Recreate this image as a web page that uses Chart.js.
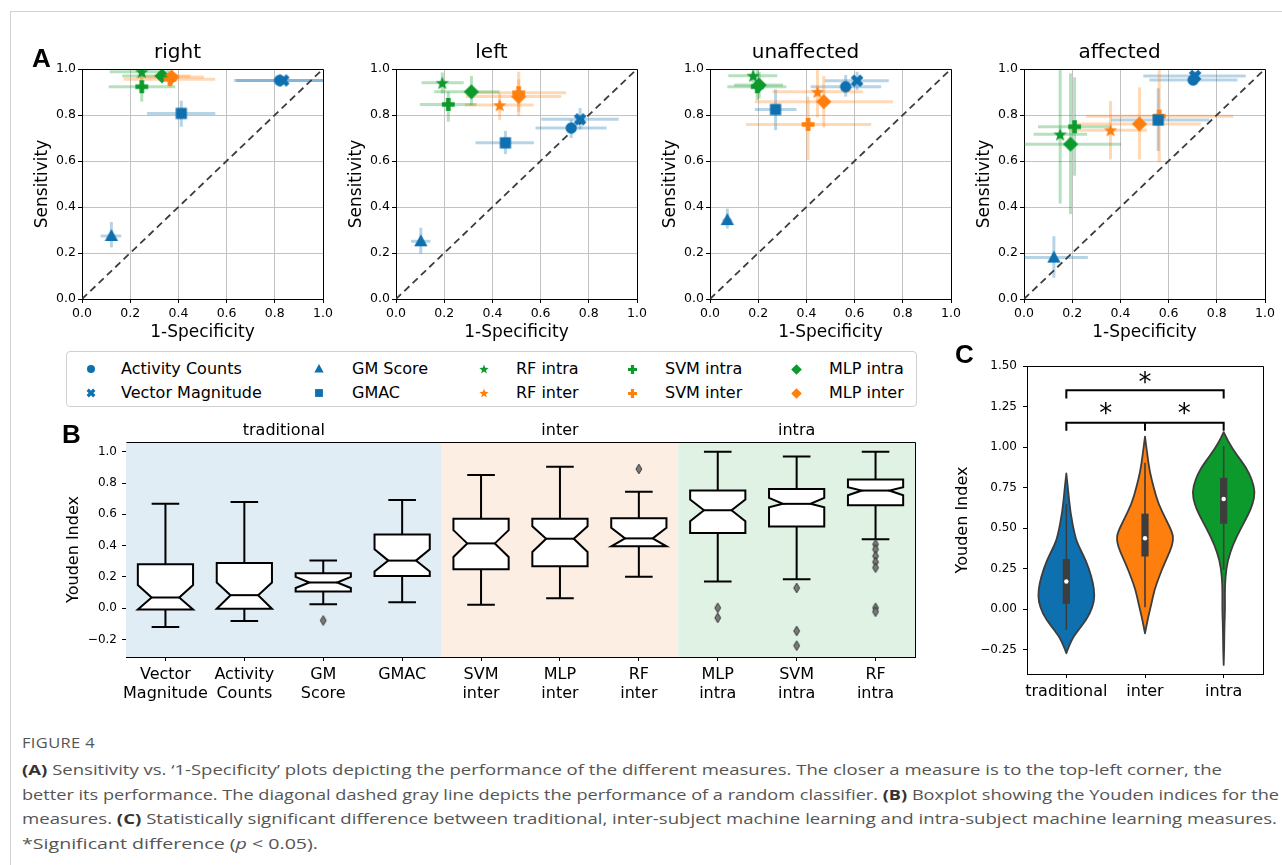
<!DOCTYPE html>
<html><head><meta charset="utf-8">
<script src="https://cdn.jsdelivr.net/npm/chart.js@4.4.1/dist/chart.umd.min.js"></script>
<style>
html,body{margin:0;padding:0;background:#fff}
body{width:1282px;height:865px;position:relative;overflow:hidden;font-family:'DejaVu Sans',sans-serif}
.frame{position:absolute;left:10px;top:11px;width:1290px;height:900px;border-top:1px solid #d2d2d2;border-left:1px solid #d2d2d2}
canvas.ch{position:absolute}
.plab{position:absolute;font-family:'Liberation Sans',Arial,sans-serif;font-weight:bold;font-size:26px;line-height:26px;color:#000}
#legend{position:absolute;left:66px;top:351px;width:849px;height:54px;border:1px solid #d0d0d0;border-radius:4px;background:#fff}
.li{position:absolute;font-size:16px;line-height:20px;color:#000;white-space:nowrap}
.lm{position:absolute}
.cap{position:absolute;left:22px;white-space:nowrap;font-family:'Open Sans',sans-serif;color:#555;transform-origin:0 50%;display:inline-block;line-height:20px}
.cap b{color:#333}
</style></head>
<body>
<div class="frame"></div>
<canvas id="roc0" class="ch"></canvas>
<canvas id="roc1" class="ch"></canvas>
<canvas id="roc2" class="ch"></canvas>
<canvas id="roc3" class="ch"></canvas>
<canvas id="boxc" class="ch"></canvas>
<canvas id="vioc" class="ch"></canvas>
<div id="legend"></div>
<div class="plab" style="left:32px;top:45px">A</div>
<div class="plab" style="left:62px;top:421px">B</div>
<div class="plab" style="left:955px;top:341px">C</div>
<div class="cap" data-w="73" style="top:733px;font-size:14px;letter-spacing:0.3px;color:#555">FIGURE 4</div>
<div class="cap" data-w="1200" style="top:759px;font-size:15px"><b>(A)</b> Sensitivity vs. ‘1-Specificity’ plots depicting the performance of the different measures. The closer a measure is to the top-left corner, the</div>
<div class="cap" data-w="1257" style="top:784px;font-size:15px">better its performance. The diagonal dashed gray line depicts the performance of a random classifier. <b>(B)</b> Boxplot showing the Youden indices for the</div>
<div class="cap" data-w="1255" style="top:808px;font-size:15px">measures. <b>(C)</b> Statistically significant difference between traditional, inter-subject machine learning and intra-subject machine learning measures.</div>
<div class="cap" data-w="296" style="top:833px;font-size:15px">*Significant difference (<i>p</i> &lt; 0.05).</div>
<script>
// ---------------- DATA ----------------
const measures = ['Activity Counts','Vector Magnitude','GM Score','GMAC','RF intra','RF inter','SVM intra','SVM inter','MLP intra','MLP inter'];
const rocTitles = ['right','left','unaffected','affected'];
const rocTicks = [0,0.2,0.4,0.6,0.8,1.0];

const rightFpr   = [0.82, 0.835, 0.122, 0.412, 0.248, 0.37, 0.248, 0.365, 0.332, 0.372];
const rightTpr   = [0.95, 0.95, 0.274, 0.807, 0.988, 0.97, 0.923, 0.955, 0.97, 0.965];
const rightFprLo = [0.63, 0.64, 0.077, 0.27, 0.115, 0.30, 0.111, 0.173, 0.167, 0.225];
const rightFprHi = [1.05, 1.03, 0.163, 0.553, 0.364, 0.45, 0.387, 0.553, 0.378, 0.505];
const rightTprLo = [0.94, 0.94, 0.224, 0.749, 0.975, 0.955, 0.858, 0.92, 0.95, 0.945];
const rightTprHi = [0.96, 0.96, 0.335, 0.862, 1.0, 0.985, 0.981, 0.99, 0.99, 0.985];

const leftFpr   = [0.727, 0.764, 0.103, 0.454, 0.192, 0.43, 0.217, 0.509, 0.313, 0.509];
const leftTpr   = [0.743, 0.781, 0.251, 0.679, 0.94, 0.843, 0.846, 0.897, 0.901, 0.88];
const leftFprLo = [0.579, 0.603, 0.062, 0.33, 0.106, 0.286, 0.099, 0.327, 0.159, 0.29];
const leftFprHi = [0.874, 0.924, 0.143, 0.572, 0.281, 0.571, 0.334, 0.706, 0.43, 0.686];
const leftTprLo = [0.70, 0.737, 0.197, 0.63, 0.894, 0.778, 0.771, 0.814, 0.843, 0.795];
const leftTprHi = [0.78, 0.83, 0.31, 0.731, 0.985, 0.894, 0.901, 0.988, 0.97, 0.955];

const unaffFpr   = [0.563, 0.61, 0.072, 0.272, 0.179, 0.446, 0.196, 0.407, 0.204, 0.472];
const unaffTpr   = [0.923, 0.949, 0.343, 0.824, 0.971, 0.901, 0.923, 0.759, 0.93, 0.858];
const unaffFprLo = [0.418, 0.476, 0.052, 0.186, 0.076, 0.259, 0.072, 0.149, 0.1, 0.186];
const unaffFprHi = [0.71, 0.742, 0.09, 0.359, 0.279, 0.634, 0.317, 0.669, 0.303, 0.759];
const unaffTprLo = [0.88, 0.909, 0.306, 0.734, 0.94, 0.79, 0.865, 0.604, 0.872, 0.746];
const unaffTprHi = [0.974, 0.988, 0.393, 0.911, 1.0, 1.0, 0.996, 0.88, 0.988, 0.97];

const affFpr   = [0.702, 0.71, 0.124, 0.557, 0.15, 0.359, 0.21, 0.561, 0.193, 0.479];
const affTpr   = [0.952, 0.97, 0.18, 0.778, 0.716, 0.734, 0.749, 0.795, 0.673, 0.761];
const affFprLo = [0.52, 0.495, 0.0, 0.361, 0.04, 0.189, 0.058, 0.258, 0.0, 0.223];
const affFprHi = [0.886, 0.92, 0.265, 0.768, 0.262, 0.51, 0.354, 0.868, 0.403, 0.734];
const affTprLo = [0.93, 0.95, 0.093, 0.644, 0.415, 0.607, 0.536, 0.594, 0.369, 0.607];
const affTprHi = [0.975, 0.99, 0.273, 0.916, 1.0, 0.861, 0.964, 1.0, 0.981, 0.92];

// Boxplot (panel B)
const boxLabels = [['Vector','Magnitude'],['Activity','Counts'],['GM','Score'],['GMAC'],['SVM','inter'],['MLP','inter'],['RF','inter'],['MLP','intra'],['SVM','intra'],['RF','intra']];
const boxWhiskLo = [-0.121, -0.083, 0.025, 0.038, 0.021, 0.064, 0.20, 0.17, 0.185, 0.44];
const boxQ1      = [-0.008, -0.004, 0.106, 0.206, 0.248, 0.268, 0.395, 0.48, 0.522, 0.658];
const boxNotchLo = [-0.008, -0.004, 0.129, 0.234, 0.327, 0.359, 0.395, 0.556, 0.645, 0.722];
const boxMedian  = [0.068, 0.083, 0.164, 0.304, 0.414, 0.444, 0.446, 0.626, 0.667, 0.752];
const boxNotchHi = [0.148, 0.164, 0.20, 0.376, 0.499, 0.524, 0.514, 0.694, 0.705, 0.773];
const boxQ3      = [0.28, 0.289, 0.223, 0.471, 0.571, 0.571, 0.575, 0.752, 0.762, 0.822];
const boxWhiskHi = [0.667, 0.679, 0.304, 0.692, 0.851, 0.904, 0.745, 1.0, 0.97, 1.0];
const outlierIdx = [2, 6, 7, 7, 8, 8, 8, 9, 9, 9, 9, 9, 9, 9];
const outlierVal = [-0.079, 0.89, 0.002, -0.062, 0.129, -0.146, -0.24, 0.408, 0.376, 0.333, 0.295, 0.259, 0.002, -0.023];
const groupNames = ['traditional','inter','intra'];
const groupFirst = [0, 4, 7];
const groupLast  = [3, 6, 9];
const boxTicks = [-0.2, 0, 0.2, 0.4, 0.6, 0.8, 1.0];

// Violin (panel C)
const violinGroups = ['traditional','inter','intra'];
const tradDensV = [0.837, 0.75, 0.6, 0.45, 0.39, 0.3, 0.2, 0.12, 0.05, -0.03, -0.1, -0.17, -0.22, -0.272];
const tradDensW = [0, 0.02, 0.05, 0.11, 0.155, 0.25, 0.32, 0.355, 0.355, 0.3, 0.2, 0.09, 0.04, 0];
const interDensV = [1.064, 0.95, 0.85, 0.75, 0.65, 0.55, 0.47, 0.42, 0.36, 0.28, 0.2, 0.12, 0.03, -0.05, -0.149];
const interDensW = [0, 0.03, 0.06, 0.11, 0.17, 0.27, 0.35, 0.36, 0.32, 0.245, 0.18, 0.12, 0.08, 0.04, 0];
const intraDensV = [1.092, 1.03, 0.95, 0.87, 0.8, 0.72, 0.65, 0.59, 0.5, 0.4, 0.3, 0.2, 0.1, 0.0, -0.1, -0.25, -0.344];
const intraDensW = [0, 0.06, 0.17, 0.29, 0.36, 0.40, 0.37, 0.32, 0.22, 0.12, 0.05, 0.022, 0.015, 0.018, 0.01, 0.006, 0];
const violinQ1  = [0.033, 0.325, 0.527];
const violinQ3  = [0.309, 0.589, 0.81];
const violinMed = [0.171, 0.437, 0.68];
const violinWLo = [-0.128, 0.012, 0.243];
const violinWHi = [0.65, 0.903, 1.006];
const violinTicks = [-0.25, 0, 0.25, 0.5, 0.75, 1.0, 1.25, 1.5];
const sigLow = 1.15, sigLowTip = 1.10, sigHigh = 1.35, sigHighTip = 1.30;
const sigStarX = [0.5, 1.5, 1.0];
const sigStarY = [1.245, 1.245, 1.44];

// ---------------- STYLE ----------------
const BLUE = '#0f70b0', ORANGE = '#ff7f0e', GREEN = '#0c9a2c';
const BLUE_A = 'rgba(15,112,176,0.3)', ORANGE_A = 'rgba(255,127,14,0.3)', GREEN_A = 'rgba(12,154,44,0.3)';
const mShapes = ['circle','x','triangle','square','star','star','plus','plus','diamond','diamond'];
const mSizes  = [5.7, 6.6, 7.0, 6.6, 7.0, 7.0, 6.4, 6.4, 7.6, 7.6];
const mColors = [BLUE,BLUE,BLUE,BLUE,GREEN,ORANGE,GREEN,ORANGE,GREEN,ORANGE];
const eColors = [BLUE_A,BLUE_A,BLUE_A,BLUE_A,GREEN_A,ORANGE_A,GREEN_A,ORANGE_A,GREEN_A,ORANGE_A];

Chart.defaults.font.family = "'DejaVu Sans', sans-serif";
Chart.defaults.color = '#000';
Chart.defaults.animation = false;

function marker(shape, color, s, edge) {
  const n = Math.ceil(s * 2 + 4), c = document.createElement('canvas');
  c.width = c.height = n;
  const g = c.getContext('2d');
  g.translate(n / 2, n / 2);
  g.fillStyle = color;
  g.beginPath();
  if (shape === 'circle') g.arc(0, 0, s, 0, Math.PI * 2);
  else if (shape === 'square') g.rect(-s * 0.85, -s * 0.85, s * 1.7, s * 1.7);
  else if (shape === 'triangle') { g.moveTo(0, -s); g.lineTo(s * 0.95, s * 0.72); g.lineTo(-s * 0.95, s * 0.72); }
  else if (shape === 'diamond') { g.moveTo(0, -s); g.lineTo(s, 0); g.lineTo(0, s); g.lineTo(-s, 0); }
  else if (shape === 'thin') { g.moveTo(0, -s); g.lineTo(s * 0.6, 0); g.lineTo(0, s); g.lineTo(-s * 0.6, 0); }
  else if (shape === 'star') {
    for (let k = 0; k < 10; k++) {
      const r = k % 2 ? s * 0.42 : s, a = -Math.PI / 2 + k * Math.PI / 5;
      const px = r * Math.cos(a), py = r * Math.sin(a) + s * 0.1;
      k ? g.lineTo(px, py) : g.moveTo(px, py);
    }
  } else {
    const a = s, b = s * 0.36, r = shape === 'x' ? Math.PI / 4 : 0;
    const pts = [[b,-a],[b,-b],[a,-b],[a,b],[b,b],[b,a],[-b,a],[-b,b],[-a,b],[-a,-b],[-b,-b],[-b,-a]];
    pts.forEach((p, k) => {
      const x = p[0] * Math.cos(r) - p[1] * Math.sin(r), y = p[0] * Math.sin(r) + p[1] * Math.cos(r);
      k ? g.lineTo(x, y) : g.moveTo(x, y);
    });
  }
  g.closePath();
  g.fill();
  if (edge) { g.strokeStyle = edge; g.lineWidth = 1; g.stroke(); }
  return c;
}

function place(cv, x, y, w, h) {
  cv.width = w; cv.height = h;
  cv.style.left = x + 'px'; cv.style.top = y + 'px';
  cv.style.width = w + 'px'; cv.style.height = h + 'px';
}
function align(p) { return Math.round(p - 0.5) + 0.5; }
const framePlugin = {
  id: 'frame',
  afterDatasetsDraw(chart) {
    const { ctx, chartArea: a } = chart;
    ctx.save();
    ctx.strokeStyle = '#000'; ctx.lineWidth = 1;
    ctx.beginPath();
    ctx.moveTo(align(a.left), align(a.top)); ctx.lineTo(align(a.right), align(a.top)); ctx.lineTo(align(a.right), align(a.bottom));
    ctx.stroke();
    ctx.restore();
  }
};
const minus = s => s.replace('-', '\u2212');

// ---------------- PANEL A ----------------
const errPlugin = {
  id: 'err',
  beforeDatasetsDraw(chart) {
    const { ctx, chartArea: a, scales: { x, y } } = chart;
    ctx.save();
    ctx.beginPath(); ctx.rect(a.left, a.top, a.right - a.left, a.bottom - a.top); ctx.clip();
    ctx.lineWidth = 3;
    chart.data.datasets.forEach(d => {
      if (!d.ex) return;
      const p = d.data[0];
      ctx.strokeStyle = d.ecol;
      ctx.beginPath();
      ctx.moveTo(x.getPixelForValue(d.ex[0]), y.getPixelForValue(p.y));
      ctx.lineTo(x.getPixelForValue(d.ex[1]), y.getPixelForValue(p.y));
      ctx.stroke();
      ctx.beginPath();
      ctx.moveTo(x.getPixelForValue(p.x), y.getPixelForValue(d.ey[0]));
      ctx.lineTo(x.getPixelForValue(p.x), y.getPixelForValue(d.ey[1]));
      ctx.stroke();
    });
    ctx.restore();
  }
};

function rocChart(id, title, fpr, tpr, fl, fh, tl, th, px, py) {
  const W = 241, H = 230, L = 60, R = 60, T = 50, B = 50;
  const cv = document.getElementById(id);
  place(cv, px - L, py - T, W + L + R, H + T + B);
  const datasets = measures.map((m, i) => ({
    label: m, data: [{ x: fpr[i], y: tpr[i] }],
    pointStyle: marker(mShapes[i], mColors[i], mSizes[i]), pointRadius: 5, pointHoverRadius: 5,
    ex: [fl[i], fh[i]], ey: [tl[i], th[i]], ecol: eColors[i], order: 1
  }));
  datasets.push({ type: 'line', label: 'random', data: [{ x: 0, y: 0 }, { x: 1, y: 1 }], borderColor: '#3c3c3c',
    borderWidth: 1.8, borderDash: [7, 4.5], pointRadius: 0, fill: false, order: 20 });
  const axisCommon = {
    type: 'linear', min: 0, max: 1,
    afterBuildTicks: s => { s.ticks = rocTicks.map(v => ({ value: v })); },
    grid: { color: '#c2c2c2', lineWidth: 1, tickColor: '#000', tickLength: 4, drawTicks: true },
    border: { color: '#000', width: 1 }
  };
  new Chart(cv, {
    type: 'scatter',
    data: { datasets },
    options: {
      responsive: false, animation: false, events: [],
      layout: { padding: { left: 10, right: 60, top: 22, bottom: 6 } },
      plugins: {
        legend: { display: false }, tooltip: { enabled: false },
        title: { display: true, text: title, color: '#000', font: { size: 20, weight: 'normal', lineHeight: 1.2 }, padding: { top: 0, bottom: 4 } }
      },
      scales: {
        x: Object.assign({}, axisCommon, {
          afterFit: s => { s.height = 44; },
          ticks: { callback: v => v.toFixed(1), font: { size: 12.5 }, color: '#000', padding: 3.5, maxRotation: 0, autoSkip: false },
          title: { display: true, text: '1-Specificity', font: { size: 17 }, color: '#000', padding: { top: 0, bottom: 0 } }
        }),
        y: Object.assign({}, axisCommon, {
          afterFit: s => { s.width = 50; },
          ticks: { callback: v => v.toFixed(1), font: { size: 12.5 }, color: '#000', padding: 2, autoSkip: false },
          title: { display: true, text: 'Sensitivity', font: { size: 17 }, color: '#000', padding: { top: 0, bottom: 0 } }
        })
      }
    },
    plugins: [errPlugin, framePlugin]
  });
}
const rocPlotX = [82, 396, 710, 1024];
rocChart('roc0', rocTitles[0], rightFpr, rightTpr, rightFprLo, rightFprHi, rightTprLo, rightTprHi, rocPlotX[0], 69);
rocChart('roc1', rocTitles[1], leftFpr, leftTpr, leftFprLo, leftFprHi, leftTprLo, leftTprHi, rocPlotX[1], 69);
rocChart('roc2', rocTitles[2], unaffFpr, unaffTpr, unaffFprLo, unaffFprHi, unaffTprLo, unaffTprHi, rocPlotX[2], 69);
rocChart('roc3', rocTitles[3], affFpr, affTpr, affFprLo, affFprHi, affTprLo, affTprHi, rocPlotX[3], 69);

// Legend (HTML)
(function () {
  const lg = document.getElementById('legend');
  const colM = [91, 319, 484, 632, 796], colT = [121, 352, 516, 665, 829], rowY = [17, 41];
  measures.forEach((m, i) => {
    const col = Math.floor(i / 2), row = i % 2;
    const mk = marker(mShapes[i], mColors[i], mSizes[i] * 0.7);
    mk.className = 'lm';
    mk.style.left = (colM[col] - 67 - mk.width / 2) + 'px';
    mk.style.top = (rowY[row] - mk.height / 2) + 'px';
    lg.appendChild(mk);
    const t = document.createElement('div');
    t.className = 'li'; t.textContent = m;
    t.style.left = (colT[col] - 67) + 'px'; t.style.top = (rowY[row] - 10) + 'px';
    lg.appendChild(t);
  });
})();

// ---------------- PANEL B ----------------
const bandColors = ['#e1edf5', '#fdeee3', '#dff2e4'];
const boxPlugin = {
  id: 'boxes',
  beforeDatasetsDraw(chart) {
    const { ctx, chartArea: a, scales: { x, y } } = chart;
    const step = x.getPixelForValue(1) - x.getPixelForValue(0);
    ctx.save();
    groupFirst.forEach((f, g) => {
      const x0 = x.getPixelForValue(f) - step / 2, x1 = x.getPixelForValue(groupLast[g]) + step / 2;
      ctx.fillStyle = bandColors[g];
      ctx.fillRect(x0, a.top, x1 - x0, a.bottom - a.top);
    });
    const hw = step * 0.35, nw = hw * 0.5, cw = hw * 0.5;
    ctx.strokeStyle = '#000'; ctx.lineWidth = 2; ctx.lineJoin = 'miter';
    boxMedian.forEach((m, i) => {
      const cx = x.getPixelForValue(i);
      const Y = v => y.getPixelForValue(v);
      ctx.beginPath();
      ctx.moveTo(cx, Y(boxQ3[i])); ctx.lineTo(cx, Y(boxWhiskHi[i]));
      ctx.moveTo(cx - cw, Y(boxWhiskHi[i])); ctx.lineTo(cx + cw, Y(boxWhiskHi[i]));
      ctx.moveTo(cx, Y(boxQ1[i])); ctx.lineTo(cx, Y(boxWhiskLo[i]));
      ctx.moveTo(cx - cw, Y(boxWhiskLo[i])); ctx.lineTo(cx + cw, Y(boxWhiskLo[i]));
      ctx.stroke();
      const l = cx - hw, r = cx + hw;
      ctx.beginPath();
      ctx.moveTo(l, Y(boxQ1[i])); ctx.lineTo(l, Y(boxNotchLo[i])); ctx.lineTo(l + nw, Y(m)); ctx.lineTo(l, Y(boxNotchHi[i]));
      ctx.lineTo(l, Y(boxQ3[i])); ctx.lineTo(r, Y(boxQ3[i])); ctx.lineTo(r, Y(boxNotchHi[i])); ctx.lineTo(r - nw, Y(m));
      ctx.lineTo(r, Y(boxNotchLo[i])); ctx.lineTo(r, Y(boxQ1[i])); ctx.closePath();
      ctx.fillStyle = '#fff'; ctx.fill(); ctx.stroke();
      ctx.beginPath(); ctx.moveTo(l + nw, Y(m)); ctx.lineTo(r - nw, Y(m)); ctx.stroke();
    });
    ctx.restore();
  },
  afterDraw(chart) {
    const { ctx, chartArea: a, scales: { x } } = chart;
    ctx.save();
    ctx.font = "16px 'DejaVu Sans'"; ctx.fillStyle = '#000'; ctx.textAlign = 'center'; ctx.textBaseline = 'middle';
    groupNames.forEach((n, g) => {
      const cx = (x.getPixelForValue(groupFirst[g]) + x.getPixelForValue(groupLast[g])) / 2;
      ctx.fillText(n, cx, a.top - 11);
    });
    ctx.restore();
  }
};
(function () {
  const cv = document.getElementById('boxc');
  const PX = 126, PY = 442, W = 789, H = 215, L = 80, R = 80, T = 40, B = 60;
  place(cv, PX - L, PY - T, W + L + R, H + T + B);
  new Chart(cv, {
    type: 'bar',
    data: {
      labels: boxLabels,
      datasets: [
        { type: 'bar', label: 'IQR', data: boxQ1.map((v, i) => [v, boxQ3[i]]), backgroundColor: 'rgba(0,0,0,0)', borderWidth: 0,
          barPercentage: 0.7, categoryPercentage: 1, order: 2 },
        { type: 'scatter', label: 'outliers', data: outlierIdx.map((k, j) => ({ x: boxLabels[k], y: outlierVal[j] })),
          pointStyle: marker('thin', '#7a7a7a', 4.8, '#333'), pointRadius: 4, order: 1 }
      ]
    },
    options: {
      responsive: false, animation: false, events: [],
      layout: { padding: { left: 18, right: 80, top: 40, bottom: 10 } },
      plugins: { legend: { display: false }, tooltip: { enabled: false } },
      scales: {
        x: {
          type: 'category', offset: true, afterFit: s => { s.height = 50; },
          grid: { drawOnChartArea: false, tickColor: '#000', tickLength: 4, offset: false },
          border: { color: '#000', width: 1 },
          ticks: { font: { size: 16, lineHeight: 1.15 }, color: '#000', padding: 4.8, maxRotation: 0, autoSkip: false }
        },
        y: {
          type: 'linear', min: -0.3125, max: 1.0625,
          afterBuildTicks: s => { s.ticks = boxTicks.map(v => ({ value: v })); },
          afterFit: s => { s.width = 62; },
          grid: { drawOnChartArea: false, tickColor: '#000', tickLength: 4 },
          border: { color: '#000', width: 1 },
          ticks: { callback: v => minus(v.toFixed(1)), font: { size: 12 }, color: '#000', padding: 5, autoSkip: false },
          title: { display: true, text: 'Youden Index', font: { size: 16 }, color: '#000', padding: { top: 0, bottom: 0 } }
        }
      }
    },
    plugins: [boxPlugin, framePlugin]
  });
})();

// ---------------- PANEL C ----------------
const violinColors = [BLUE, ORANGE, GREEN];
const violinProfiles = [[tradDensV, tradDensW], [interDensV, interDensW], [intraDensV, intraDensW]];
const violinPlugin = {
  id: 'violins',
  beforeDatasetsDraw(chart) {
    const { ctx, scales: { x, y } } = chart;
    const step = x.getPixelForValue(1) - x.getPixelForValue(0);
    ctx.save();
    violinProfiles.forEach((pr, g) => {
      const cx = x.getPixelForValue(g);
      const V = pr[0], Wd = pr[1];
      const pts = [];
      V.forEach((v, k) => pts.push([cx + Wd[k] * step, y.getPixelForValue(v)]));
      for (let k = V.length - 1; k >= 0; k--) pts.push([cx - Wd[k] * step, y.getPixelForValue(V[k])]);
      ctx.beginPath();
      ctx.moveTo(pts[0][0], pts[0][1]);
      for (let k = 1; k < pts.length - 1; k++) {
        const mx = (pts[k][0] + pts[k + 1][0]) / 2, my = (pts[k][1] + pts[k + 1][1]) / 2;
        ctx.quadraticCurveTo(pts[k][0], pts[k][1], mx, my);
      }
      ctx.lineTo(pts[pts.length - 1][0], pts[pts.length - 1][1]);
      ctx.closePath();
      ctx.fillStyle = violinColors[g]; ctx.fill();
      ctx.strokeStyle = '#3d3d3d'; ctx.lineWidth = 1.8; ctx.lineJoin = 'round'; ctx.stroke();
      ctx.beginPath();
      ctx.moveTo(cx, y.getPixelForValue(violinWLo[g])); ctx.lineTo(cx, y.getPixelForValue(violinWHi[g]));
      ctx.lineWidth = 1.6; ctx.stroke();
      ctx.fillStyle = '#3d3d3d';
      const t = y.getPixelForValue(violinQ3[g]), b = y.getPixelForValue(violinQ1[g]);
      ctx.fillRect(cx - 3.6, t, 7.2, b - t);
    });
    ctx.restore();
  },
  afterDatasetsDraw(chart) {
    const { ctx, scales: { x, y } } = chart;
    ctx.save();
    ctx.strokeStyle = '#000'; ctx.lineWidth = 2;
    const X = i => x.getPixelForValue(i), Y = v => y.getPixelForValue(v);
    ctx.beginPath();
    ctx.moveTo(X(0), Y(sigLowTip)); ctx.lineTo(X(0), Y(sigLow)); ctx.lineTo(X(2), Y(sigLow)); ctx.lineTo(X(2), Y(sigLowTip));
    ctx.moveTo(X(1), Y(sigLow)); ctx.lineTo(X(1), Y(sigLowTip));
    ctx.moveTo(X(0), Y(sigHighTip)); ctx.lineTo(X(0), Y(sigHigh)); ctx.lineTo(X(2), Y(sigHigh)); ctx.lineTo(X(2), Y(sigHighTip));
    ctx.stroke();
    ctx.font = "26px 'DejaVu Sans'"; ctx.fillStyle = '#000'; ctx.textAlign = 'center'; ctx.textBaseline = 'alphabetic';
    sigStarX.forEach((sx, k) => {
      const px = X(0) + sx * (X(1) - X(0));
      ctx.fillText('*', px, Y(sigStarY[k]) + 15);
    });
    ctx.restore();
  }
};
(function () {
  const cv = document.getElementById('vioc');
  const PX = 1027, PY = 366, W = 236, H = 308, L = 80, R = 19, T = 30, B = 50;
  place(cv, PX - L, PY - T, W + L + R, H + T + B);
  new Chart(cv, {
    type: 'scatter',
    data: {
      labels: violinGroups,
      datasets: [{ label: 'median', data: violinMed.map((m, i) => ({ x: violinGroups[i], y: m })),
        pointStyle: 'circle', pointRadius: 2.2, backgroundColor: '#fff', borderWidth: 0 }]
    },
    options: {
      responsive: false, animation: false, events: [],
      layout: { padding: { left: 5, right: 19, top: 30, bottom: 10 } },
      plugins: { legend: { display: false }, tooltip: { enabled: false } },
      scales: {
        x: {
          type: 'category', offset: true, afterFit: s => { s.height = 40; },
          grid: { drawOnChartArea: false, tickColor: '#000', tickLength: 4, offset: false },
          border: { color: '#000', width: 1 },
          ticks: { font: { size: 16 }, color: '#000', padding: 4.4, maxRotation: 0, autoSkip: false }
        },
        y: {
          type: 'linear', min: -0.4, max: 1.5,
          afterBuildTicks: s => { s.ticks = violinTicks.map(v => ({ value: v })); },
          afterFit: s => { s.width = 75; },
          grid: { drawOnChartArea: false, tickColor: '#000', tickLength: 4 },
          border: { color: '#000', width: 1 },
          ticks: { callback: v => minus(v.toFixed(2)), font: { size: 12 }, color: '#000', padding: 6, autoSkip: false },
          title: { display: true, text: 'Youden Index', font: { size: 16 }, color: '#000', padding: { top: 1.4, bottom: 0 } }
        }
      }
    },
    plugins: [violinPlugin, framePlugin]
  });
})();

// Caption width fitting
document.querySelectorAll('.cap[data-w]').forEach(el => {
  const w = el.getBoundingClientRect().width;
  el.style.transform = 'scaleX(' + (parseFloat(el.dataset.w) / w) + ')';
});
</script>
</body></html>
